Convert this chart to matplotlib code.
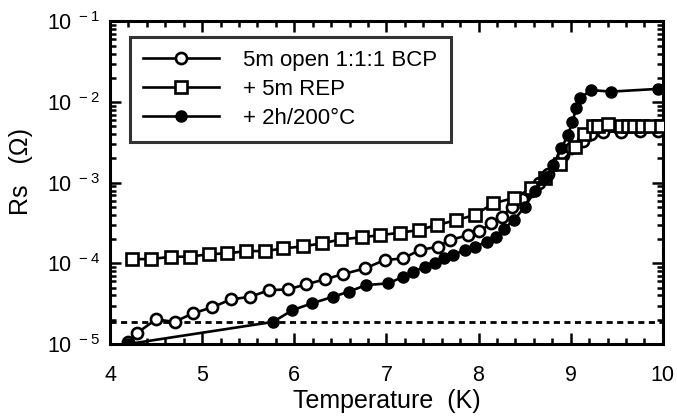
import math
import matplotlib.pyplot as plt
from matplotlib.ticker import LogLocator, FuncFormatter, MultipleLocator, NullFormatter

plt.rcParams['font.family'] = ['Liberation Sans', 'DejaVu Sans']
plt.rcParams['mathtext.fontset'] = 'custom'
plt.rcParams['mathtext.rm'] = 'Liberation Sans'

# 5m open 1:1:1 BCP (open circles)
t_bcp = [4.20, 4.29, 4.50, 4.70, 4.90, 5.11, 5.31, 5.52, 5.73, 5.93, 6.13, 6.33, 6.53,
         6.77, 6.98, 7.18, 7.36, 7.56, 7.69, 7.89, 8.01, 8.14, 8.25, 8.36, 8.47, 8.57,
         8.66, 8.75, 8.84, 8.92, 9.00, 9.13, 9.22, 9.35, 9.55, 9.75, 9.95]
r_bcp = [1.05e-5, 1.36e-5, 2.02e-5, 1.88e-5, 2.4e-5, 2.85e-5, 3.57e-5, 3.85e-5, 4.66e-5,
         4.75e-5, 5.5e-5, 6.33e-5, 7.36e-5, 8.67e-5, 1.1e-4, 1.15e-4, 1.46e-4, 1.61e-4,
         1.95e-4, 2.24e-4, 2.52e-4, 3.13e-4, 3.8e-4, 5.0e-4, 6.2e-4, 7.8e-4, 1.0e-3,
         1.3e-3, 1.7e-3, 2.2e-3, 2.7e-3, 3.3e-3, 4.0e-3, 4.3e-3, 4.3e-3, 4.35e-3, 4.4e-3]

# + 5m REP (open squares)
t_rep = [4.24, 4.45, 4.66, 4.87, 5.07, 5.27, 5.48, 5.68, 5.88, 6.10, 6.30, 6.51, 6.73,
         6.93, 7.15, 7.35, 7.55, 7.76, 7.96, 8.16, 8.39, 8.57, 8.72, 8.88, 9.05, 9.15,
         9.24, 9.30, 9.40, 9.55, 9.62, 9.69, 9.77, 9.86, 9.98]
r_rep = [1.13e-4, 1.13e-4, 1.21e-4, 1.21e-4, 1.30e-4, 1.33e-4, 1.42e-4, 1.42e-4, 1.53e-4,
         1.63e-4, 1.77e-4, 1.99e-4, 2.10e-4, 2.24e-4, 2.40e-4, 2.59e-4, 2.99e-4, 3.44e-4,
         3.98e-4, 5.55e-4, 6.5e-4, 8.5e-4, 1.15e-3, 1.7e-3, 2.8e-3, 4.0e-3, 5.0e-3,
         5.0e-3, 5.3e-3, 5.0e-3, 5.0e-3, 5.0e-3, 5.0e-3, 5.0e-3, 5.0e-3]

# + 2h/200°C (filled circles)
t_ann = [4.20, 5.77, 5.98, 6.19, 6.42, 6.59, 6.78, 7.02, 7.18, 7.29, 7.42, 7.53, 7.63,
         7.72, 7.85, 7.96, 8.09, 8.19, 8.28, 8.39, 8.50, 8.61, 8.72, 8.81, 8.90, 8.97,
         9.02, 9.06, 9.10, 9.22, 9.44, 9.95]
r_ann = [1.0e-5, 1.88e-5, 2.63e-5, 3.19e-5, 3.85e-5, 4.45e-5, 5.38e-5, 5.65e-5, 6.8e-5,
         7.87e-5, 9.08e-5, 1.0e-4, 1.15e-4, 1.27e-4, 1.46e-4, 1.61e-4, 1.85e-4, 2.14e-4,
         2.7e-4, 3.5e-4, 5.0e-4, 7.8e-4, 1.13e-3, 1.66e-3, 2.67e-3, 3.9e-3, 5.7e-3,
         8.4e-3, 1.11e-2, 1.41e-2, 1.35e-2, 1.46e-2]

noise_floor = 1.9e-5

fig = plt.figure(figsize=(6.77, 4.19), dpi=100)
ax = fig.add_axes([0.1625, 0.179, 0.8165, 0.7697])

ax.axhline(noise_floor, color='black', lw=2, ls=(0, (2.2, 1.6)))
ax.plot(t_bcp, r_bcp, '-o', color='black', lw=1.9, ms=8, mfc='white', mec='black',
        mew=1.9, label='5m open 1:1:1 BCP', zorder=3)
ax.plot(t_rep, r_rep, '-s', color='black', lw=1.9, ms=8.5, mfc='white', mec='black',
        mew=1.9, label='+ 5m REP', zorder=4)
ax.plot(t_ann, r_ann, '-o', color='black', lw=1.9, ms=8, mfc='black', mec='black',
        label='+ 2h/200°C', zorder=5)

ax.set_yscale('log')
ax.set_xlim(4, 10)
ax.set_ylim(1e-5, 1e-1)
ax.xaxis.set_major_locator(MultipleLocator(1))
ax.xaxis.set_minor_locator(MultipleLocator(0.2))
ax.yaxis.set_major_locator(LogLocator(base=10, numticks=10))
ax.yaxis.set_minor_locator(LogLocator(base=10, subs=range(2, 10), numticks=20))
ax.yaxis.set_minor_formatter(NullFormatter())
ax.yaxis.set_major_formatter(FuncFormatter(
    lambda v, _: r'$\mathregular{10^{\ %d}}$' % round(math.log10(v))))

ax.tick_params(which='both', direction='in', top=True, right=True, width=1.8,
               labelsize=15.5)
ax.tick_params(which='major', length=8)
ax.tick_params(which='minor', length=4)
ax.tick_params(axis='x', pad=15)
ax.tick_params(axis='y', pad=7)
for s in ax.spines.values():
    s.set_linewidth(2.2)

ax.set_xlabel('Temperature  (K)', fontsize=18, labelpad=2)
ax.set_ylabel('Rs   (Ω)', fontsize=18)
ax.yaxis.set_label_coords(-0.139, 0.536)

leg = ax.legend(loc='upper left', bbox_to_anchor=(0.036, 0.953), fontsize=16,
                frameon=True, fancybox=False, edgecolor='black', handlelength=3.4,
                handletextpad=1.1, labelspacing=0.36, borderpad=0.6,
                borderaxespad=0)
leg.get_frame().set_linewidth(2.2)

fig.savefig('out.png', dpi=100)
